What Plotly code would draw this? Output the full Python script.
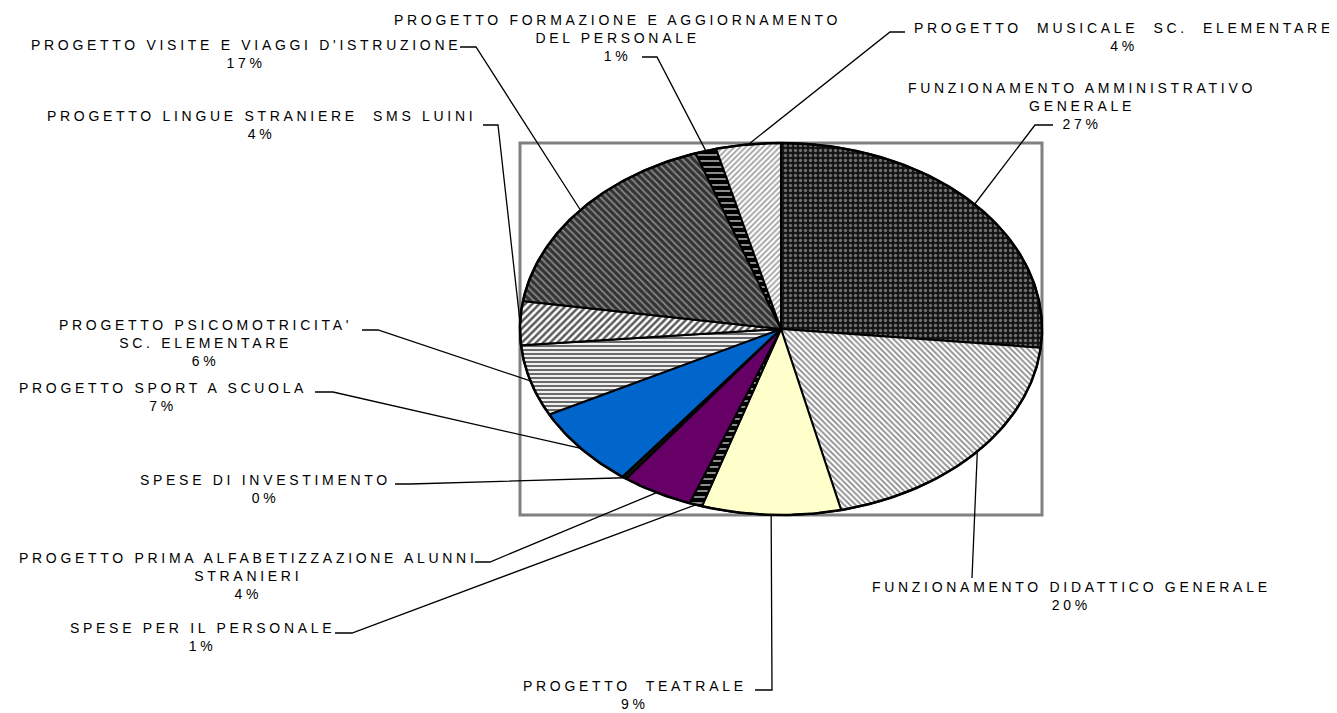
import numpy as np
import plotly.graph_objects as go

# ---------------- data ----------------
categories = [
    "FUNZIONAMENTO AMMINISTRATIVO GENERALE",
    "FUNZIONAMENTO DIDATTICO GENERALE",
    "PROGETTO  TEATRALE",
    "SPESE PER IL PERSONALE",
    "PROGETTO PRIMA ALFABETIZZAZIONE ALUNNI STRANIERI",
    "SPESE DI INVESTIMENTO",
    "PROGETTO SPORT A SCUOLA",
    "PROGETTO PSICOMOTRICITA' SC. ELEMENTARE",
    "PROGETTO LINGUE STRANIERE  SMS LUINI",
    "PROGETTO VISITE E VIAGGI D'ISTRUZIONE",
    "PROGETTO FORMAZIONE E AGGIORNAMENTO DEL PERSONALE",
    "PROGETTO  MUSICALE  SC.  ELEMENTARE",
]
values = [26.6, 19.7, 8.6, 0.8, 4.4, 0.3, 7.0, 6.2, 3.8, 17.3, 1.3, 4.0]

# label line breaks as in the original
label_lines = [
    ["FUNZIONAMENTO AMMINISTRATIVO", "GENERALE"],
    ["FUNZIONAMENTO DIDATTICO GENERALE"],
    ["PROGETTO  TEATRALE"],
    ["SPESE PER IL PERSONALE"],
    ["PROGETTO PRIMA ALFABETIZZAZIONE ALUNNI", "STRANIERI"],
    ["SPESE DI INVESTIMENTO"],
    ["PROGETTO SPORT A SCUOLA"],
    ["PROGETTO PSICOMOTRICITA'", "SC. ELEMENTARE"],
    ["PROGETTO LINGUE STRANIERE  SMS LUINI"],
    ["PROGETTO VISITE E VIAGGI D'ISTRUZIONE"],
    ["PROGETTO FORMAZIONE E AGGIORNAMENTO", "DEL PERSONALE"],
    ["PROGETTO  MUSICALE  SC.  ELEMENTARE"],
]

# ---------------- layout / style ----------------
PAGE_W, PAGE_H = 1337, 713
BODY = 8  # default page body margin
CX, CY, RX, RY = 781, 329, 261, 186

# label positions (center x, first-line center y) in page pixels
label_pos = [
    (1080, 88), (1070, 587), (633, 686), (201, 628), (247, 558), (264, 480),
    (161, 388), (204, 325), (260, 116), (244, 45), (616, 20), (1122, 28),
]
# leader line stub points (before reaching the slice edge)
leader_stub = [
    [(1053, 125), (1035, 125)],
    [(972, 578)],
    [(755, 690), (772, 690)],
    [(335, 633), (352, 633)],
    [(475, 562), (490, 562)],
    [(395, 484), (410, 484)],
    [(315, 392), (333, 392)],
    [(362, 330), (378, 330)],
    [(483, 125), (498, 125)],
    [(460, 47), (476, 47)],
    [(642, 57), (657, 57)],
    [(905, 32), (890, 32)],
]

styles = [
    dict(pattern=dict(shape=".", bgcolor="#141414", fgcolor="#6e6e6e", size=5, solidity=0.35)),
    dict(pattern=dict(shape="\\", bgcolor="#ffffff", fgcolor="#8a8a8a", size=4, solidity=0.45)),
    dict(color="#FFFFCC"),
    dict(pattern=dict(shape="-", bgcolor="#000000", fgcolor="#9a9a9a", size=6, solidity=0.3)),
    dict(color="#660066"),
    dict(color="#111111"),
    dict(color="#0066CC"),
    dict(pattern=dict(shape="-", bgcolor="#ffffff", fgcolor="#6a6a6a", size=4, solidity=0.55)),
    dict(pattern=dict(shape="/", bgcolor="#ffffff", fgcolor="#5a5a5a", size=5, solidity=0.5)),
    dict(pattern=dict(shape="\\", bgcolor="#333333", fgcolor="#858585", size=5, solidity=0.35)),
    dict(pattern=dict(shape="-", bgcolor="#000000", fgcolor="#9a9a9a", size=6, solidity=0.3)),
    dict(pattern=dict(shape="/", bgcolor="#ffffff", fgcolor="#a0a0a0", size=4, solidity=0.45)),
]

FONT = "Arial, Liberation Sans, sans-serif"
FSIZE = 14
SPACING = 3.7

total = float(sum(values))
fracs = np.array(values) / total
cum = np.concatenate([[0.0], np.cumsum(fracs)])


def ell_pt(f):
    a = 2 * np.pi * f
    return CX + RX * np.sin(a), CY - RY * np.cos(a)


fig = go.Figure()

for i, cat in enumerate(categories):
    f0, f1 = cum[i], cum[i + 1]
    n = max(4, int(np.ceil((f1 - f0) * 400)))
    ts = np.linspace(f0, f1, n)
    xs = [CX] + [ell_pt(t)[0] for t in ts] + [CX]
    ys = [CY] + [ell_pt(t)[1] for t in ts] + [CY]
    st = styles[i]
    kw = dict(x=xs, y=ys, mode="lines", fill="toself",
              line=dict(color="black", width=2), name=cat,
              showlegend=False, hoverinfo="skip")
    if "pattern" in st:
        p = st["pattern"]
        kw["fillcolor"] = p["bgcolor"]
        kw["fillpattern"] = dict(shape=p["shape"], bgcolor=p["bgcolor"],
                                 fgcolor=p["fgcolor"], size=p["size"],
                                 solidity=p["solidity"], fillmode="replace")
    else:
        kw["fillcolor"] = st["color"]
    fig.add_trace(go.Scatter(**kw))

# outer outline
tt = np.linspace(0, 1, 500)
fig.add_trace(go.Scatter(x=[ell_pt(t)[0] for t in tt], y=[ell_pt(t)[1] for t in tt],
                         mode="lines", line=dict(color="black", width=2.5),
                         showlegend=False, hoverinfo="skip"))

# leader lines (end at the slice mid-angle on the edge)
for i in range(len(categories)):
    mid = (cum[i] + cum[i + 1]) / 2
    ex, ey = ell_pt(mid)
    pts = leader_stub[i] + [(ex, ey)]
    fig.add_trace(go.Scatter(x=[p[0] for p in pts], y=[p[1] for p in pts],
                             mode="lines", line=dict(color="black", width=1.3),
                             showlegend=False, hoverinfo="skip"))

# labels
annotations = []
for i in range(len(categories)):
    pct = f"{int(round(values[i] / total * 100))}%"
    lines = label_lines[i] + [pct]
    txt = "<br>".join(
        f'<span style="letter-spacing:{SPACING}px">' + ln.replace("  ", "\u00a0 ") + "</span>"
        for ln in lines)
    x, y = label_pos[i]
    annotations.append(dict(x=x + SPACING / 2, y=y - 10, xref="x", yref="y", text=txt,
                            showarrow=False, xanchor="center", yanchor="top",
                            align="center",
                            font=dict(family=FONT, size=FSIZE, color="black")))

fig.update_layout(
    width=PAGE_W - BODY, height=PAGE_H - BODY,
    margin=dict(l=0, r=0, t=0, b=0),
    paper_bgcolor="white", plot_bgcolor="white",
    xaxis=dict(range=[BODY, PAGE_W], visible=False, fixedrange=True),
    yaxis=dict(range=[PAGE_H, BODY], visible=False, fixedrange=True),
    annotations=annotations,
    shapes=[dict(type="rect", xref="x", yref="y",
                 x0=CX - RX, x1=CX + RX, y0=CY - RY, y1=CY + RY,
                 line=dict(color="#808080", width=3), layer="below")],
    showlegend=False,
)

fig.write_html("out.html")
